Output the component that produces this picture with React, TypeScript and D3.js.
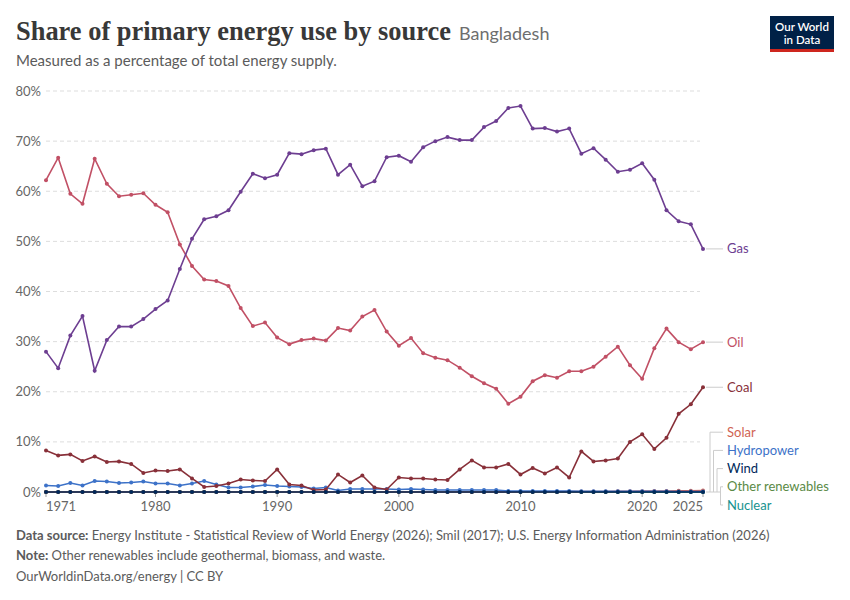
import React from 'react';
import * as d3 from 'd3';

const years = d3.range(1971, 2026);

const gas = [28.0, 24.7, 31.2, 35.1, 24.2, 30.3, 33.0, 33.0, 34.5,
	36.5, 38.2, 44.5, 50.5, 54.4, 55.0, 56.2, 59.9, 63.5, 62.6,
	63.3, 67.6, 67.4, 68.2, 68.5, 63.3, 65.3, 61.0, 62.0, 66.8,
	67.1, 65.9, 68.8, 70.0, 70.8, 70.2, 70.2, 72.8, 74.0, 76.6,
	77.0, 72.5, 72.6, 71.9, 72.5, 67.5, 68.6, 66.3, 63.9, 64.3,
	65.6, 62.3, 56.2, 54.0, 53.4, 48.5];
const oil = [62.2, 66.7, 59.5, 57.5, 66.5, 61.5, 59.0, 59.3, 59.6,
	57.3, 55.8, 49.4, 45.1, 42.4, 42.1, 41.1, 36.7, 33.1, 33.8,
	30.8, 29.5, 30.3, 30.6, 30.2, 32.7, 32.2, 35.0, 36.3, 32.0,
	29.2, 30.7, 27.7, 26.8, 26.3, 24.8, 23.1, 21.7, 20.6, 17.6,
	19.0, 22.1, 23.3, 22.8, 24.1, 24.1, 25.0, 27.0, 29.0, 25.3,
	22.6, 28.7, 32.6, 29.9, 28.5, 29.9];
const coal = [8.3, 7.3, 7.5, 6.2, 7.1, 6.0, 6.1, 5.6, 3.8,
	4.3, 4.2, 4.5, 2.7, 1.0, 1.2, 1.7, 2.5, 2.3, 2.2,
	4.5, 1.5, 1.3, 0.4, 0.5, 3.5, 1.9, 3.3, 0.9, 0.5,
	2.9, 2.7, 2.7, 2.5, 2.4, 4.5, 6.3, 4.9, 4.9, 5.6,
	3.5, 4.8, 3.7, 4.9, 2.9, 8.1, 6.1, 6.3, 6.7, 10.0,
	11.5, 8.6, 10.8, 15.6, 17.5, 20.9];
const hydro = [1.3, 1.2, 1.8, 1.3, 2.2, 2.1, 1.8, 1.9, 2.1,
	1.7, 1.7, 1.3, 1.7, 2.2, 1.5, 0.9, 0.9, 1.1, 1.4,
	1.2, 1.1, 1.0, 0.7, 0.9, 0.3, 0.6, 0.6, 0.6, 0.6,
	0.5, 0.6, 0.5, 0.4, 0.4, 0.4, 0.4, 0.4, 0.4, 0.2,
	0.2, 0.2, 0.2, 0.2, 0.2, 0.15, 0.15, 0.15, 0.15, 0.15,
	0.15, 0.15, 0.15, 0.1, 0.1, 0.1];
const solar = [0, 0, 0, 0, 0, 0, 0, 0, 0,
	0, 0, 0, 0, 0, 0, 0, 0, 0, 0,
	0, 0, 0, 0, 0, 0, 0, 0, 0, 0,
	0, 0, 0, 0, 0, 0, 0, 0, 0, 0.02,
	0.03, 0.04, 0.05, 0.06, 0.07, 0.08, 0.1, 0.11, 0.13, 0.15,
	0.17, 0.19, 0.21, 0.23, 0.25, 0.28];
const wind = years.map(() => 0);
const otherRenewables = years.map(() => 0);
const nuclear = years.map(() => 0);

const yTicks = [0, 10, 20, 30, 40, 50, 60, 70, 80];
const xTicks = [1971, 1980, 1990, 2000, 2010, 2020, 2025];

const bigSeries = [
	{ name: 'Gas', values: gas, color: '#6d3e91' },
	{ name: 'Oil', values: oil, color: '#c15065' },
	{ name: 'Coal', values: coal, color: '#883039' },
];
const smallSeries = [
	{ name: 'Solar', values: solar, color: '#d06352' },
	{ name: 'Hydropower', values: hydro, color: '#3d72c8' },
	{ name: 'Wind', values: wind, color: '#00295b' },
	{ name: 'Other renewables', values: otherRenewables, color: '#5a8a45' },
	{ name: 'Nuclear', values: nuclear, color: '#18938f' },
];
// drawing order: flat ones underneath, wind on top of the zero line
const drawOrder = ['Nuclear', 'Other renewables', 'Solar', 'Hydropower', 'Coal', 'Oil', 'Gas', 'Wind'];

const font = 'Lato, "Noto Sans", sans-serif';

export default function App() {
	const x = d3.scaleLinear().domain([1971, 2025]).range([46, 703]);
	const y = d3.scaleLinear().domain([0, 80]).range([492, 91]);
	const line = d3.line<number>().x((d, i) => x(years[i])).y(d => y(d));
	const all = [...bigSeries, ...smallSeries];
	const ordered = drawOrder.map(n => all.find(s => s.name === n)!);
	const y0 = y(0);

	return (
		<svg width={850} height={600} style={{ position: 'absolute', left: 0, top: 0 }} fontFamily={font}>
			<rect width={850} height={600} fill="#fff" />
			{/* header */}
			<text x={16} y={40} fontFamily='"Liberation Serif", serif' fontSize={27} fontWeight={600} fill="#383838"
				textLength={435} lengthAdjust="spacingAndGlyphs">Share of primary energy use by source</text>
			<text x={459} y={40} fontSize={18} fill="#6e6e6e">Bangladesh</text>
			<text x={16} y={66} fontSize={15} fill="#5b5b5b">Measured as a percentage of total energy supply.</text>
			<rect x={770} y={16} width={64} height={36} fill="#002147" />
			<rect x={770} y={49} width={64} height={3} fill="#ce261e" />
			<text x={802} y={31} fontSize={11.5} fontWeight={600} fill="#fff" textAnchor="middle">Our World</text>
			<text x={802} y={44} fontSize={11.5} fontWeight={600} fill="#fff" textAnchor="middle">in Data</text>

			{/* grid + y axis */}
			{yTicks.map(t => (
				<g key={t}>
					{t > 0 && <line x1={46} x2={700} y1={y(t)} y2={y(t)} stroke="#dddddd" strokeDasharray="4,3" />}
					<text x={41} y={y(t) + 4.5} fontSize={13} fill="#666" textAnchor="end">{t}%</text>
				</g>
			))}
			<line x1={46} x2={703} y1={y0} y2={y0} stroke="#999" />

			{/* x axis */}
			{xTicks.map((t, i) => (
				<g key={t}>
					<line x1={x(t)} x2={x(t)} y1={y0} y2={y0 + 5} stroke="#999" />
					<text x={x(t)} y={511} fontSize={13} fill="#666"
						textAnchor={i === 0 ? 'start' : i === xTicks.length - 1 ? 'end' : 'middle'}>{t}</text>
				</g>
			))}

			{/* lines */}
			{ordered.map(s => (
				<g key={s.name}>
					<path d={line(s.values)!} fill="none" stroke={s.color} strokeWidth={1.6} />
					{s.values.map((v, i) => (
						<circle key={i} cx={x(years[i])} cy={y(v)} r={2} fill={s.color} />
					))}
				</g>
			))}

			{/* labels for the large series */}
			{bigSeries.map(s => {
				const ly = y(s.values[s.values.length - 1]);
				return (
					<g key={s.name}>
						<line x1={706} x2={723} y1={ly} y2={ly} stroke="#cccccc" />
						<text x={727} y={ly + 4.5} fontSize={13} fill={s.color}>{s.name}</text>
					</g>
				);
			})}

			{/* labels for the series near zero */}
			<line x1={706} x2={720.5} y1={y0} y2={y0} stroke="#cccccc" />
			{smallSeries.map((s, i) => {
				const ly = 505 - (smallSeries.length - 1 - i) * 18.2;
				const vx = Math.min(710 + i * 3.5, 720.5);
				return (
					<g key={s.name}>
						<line x1={vx} x2={vx} y1={y0} y2={ly} stroke="#cccccc" />
						<line x1={vx} x2={723} y1={ly} y2={ly} stroke="#cccccc" />
						<text x={727} y={ly + 4.5} fontSize={13} fill={s.color}>{s.name}</text>
					</g>
				);
			})}

			{/* footer */}
			<text x={16} y={540} fontSize={13} fill="#5b5b5b">
				<tspan fontWeight={700}>Data source:</tspan> Energy Institute - Statistical Review of World Energy (2026); Smil (2017); U.S. Energy Information Administration (2026)
			</text>
			<text x={16} y={560} fontSize={13} fill="#5b5b5b">
				<tspan fontWeight={700}>Note:</tspan> Other renewables include geothermal, biomass, and waste.
			</text>
			<text x={16} y={581} fontSize={13} fill="#5b5b5b">OurWorldinData.org/energy | CC BY</text>
		</svg>
	);
}
